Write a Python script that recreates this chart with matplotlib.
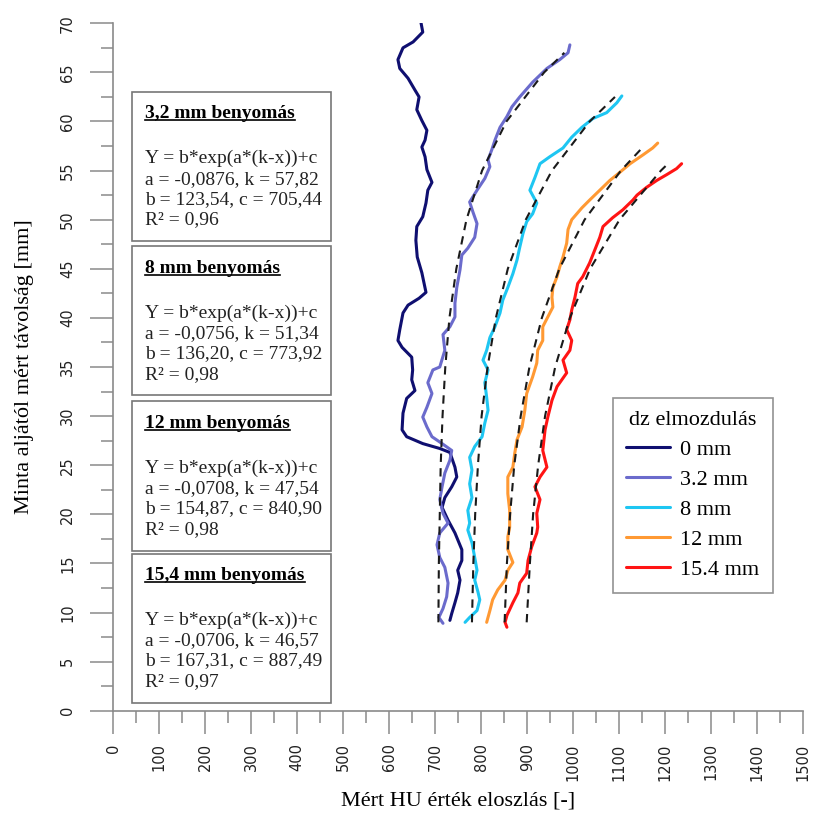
import matplotlib
matplotlib.use('Agg')
import matplotlib.pyplot as plt
from matplotlib.patches import Rectangle
from matplotlib.lines import Line2D

plt.rcParams['font.family'] = ['Liberation Serif', 'DejaVu Serif']

# measured HU profiles (height [mm], HU)
h_0 = [9.2, 9.9, 11.0, 12.0, 13.3, 14.3, 15.3, 16.4, 18.1, 19.4, 20.7, 21.7, 22.8, 23.8, 24.8,
       26.3, 26.7, 27.2, 27.9, 28.6, 30.3, 31.8, 32.6, 33.7, 34.7, 36.0, 37.0, 37.7, 38.8, 40.5,
       41.3, 42.0, 42.6, 44.6, 46.2, 47.9, 49.3, 50.3, 51.7, 53.0, 53.8, 55.1, 56.4, 57.4, 58.1,
       59.1, 60.1, 61.2, 62.5, 63.2, 64.4, 65.4, 66.3, 67.5, 68.1, 69.1, 70.6, 71.4]
hu_0 = [732, 736, 743, 749, 754, 749, 758, 758, 743, 728, 715, 721, 736, 747, 743,
        732, 710, 673, 638, 628, 630, 638, 656, 649, 651, 649, 628, 619, 623, 630,
        641, 665, 680, 671, 661, 658, 660, 673, 680, 684, 693, 682, 678, 671, 678,
        682, 671, 660, 665, 656, 641, 623, 619, 630, 652, 673, 667, 667]

h_32 = [8.9, 9.5, 10.4, 11.6, 13.0, 14.6, 15.6, 16.9, 18.1, 19.1, 20.1, 21.5, 22.8, 24.2, 25.5,
        26.5, 27.2, 27.9, 28.9, 29.9, 30.9, 32.3, 33.4, 34.7, 35.0, 36.7, 38.3, 39.1, 40.1, 41.5,
        43.1, 44.9, 46.4, 47.1, 48.2, 49.6, 50.8, 51.8, 53.0, 54.2, 55.4, 56.1, 57.1, 58.1, 59.4,
        60.5, 61.5, 62.5, 64.0, 65.4, 66.3, 67.0, 67.8]
hu_32 = [717, 708, 717, 725, 728, 721, 710, 704, 710, 728, 717, 710, 715, 721, 732,
         736, 715, 693, 682, 673, 682, 693, 684, 695, 710, 721, 717, 732, 743, 743,
         747, 754, 758, 771, 786, 791, 782, 775, 791, 808, 819, 815, 823, 830, 841,
         856, 867, 884, 912, 943, 971, 989, 993]

h_8 = [9.0, 9.5, 10.2, 11.3, 12.1, 13.3, 14.3, 15.6, 17.1, 18.4, 19.1, 20.4, 21.7, 23.1, 24.5,
       25.8, 26.9, 27.9, 29.3, 30.6, 31.9, 33.4, 34.7, 35.7, 36.7, 38.0, 39.1, 40.5, 41.8, 43.1,
       44.5, 45.9, 47.2, 48.6, 49.8, 50.6, 51.7, 53.0, 54.3, 55.7, 56.4, 57.3, 58.4, 59.4, 60.3,
       60.9, 61.9, 62.6]
hu_8 = [765, 775, 791, 797, 793, 786, 791, 786, 780, 771, 775, 771, 780, 775, 780,
        775, 786, 802, 808, 815, 812, 808, 815, 804, 812, 819, 830, 841, 847, 858,
        869, 878, 884, 891, 899, 912, 921, 906, 917, 928, 949, 978, 997, 1019, 1043,
        1073, 1095, 1106]

h_12 = [9.0, 10.2, 11.3, 12.3, 13.3, 14.3, 15.1, 16.4, 17.7, 18.7, 20.4, 22.1, 23.8, 24.8, 26.2,
        27.6, 28.9, 30.6, 32.3, 34.0, 35.4, 36.7, 37.7, 39.1, 40.1, 41.1, 42.1, 43.1, 44.2, 45.2,
        46.2, 47.6, 49.0, 50.0, 51.2, 52.0, 53.0, 54.0, 54.8, 55.7, 56.6, 57.3, 57.8]
hu_12 = [812, 819, 825, 836, 852, 858, 869, 858, 858, 862, 862, 858, 858, 869, 873,
         878, 889, 895, 899, 912, 921, 923, 934, 934, 945, 956, 954, 956, 965, 971,
         978, 986, 989, 997, 1019, 1036, 1058, 1080, 1101, 1124, 1152, 1173, 1184]

h_154 = [8.5, 9.0, 9.7, 11.0, 12.0, 13.0, 14.0, 15.3, 16.7, 18.1, 18.7, 20.1, 21.5, 22.8, 23.8,
         24.8, 26.5, 28.6, 29.9, 31.6, 33.0, 34.4, 35.7, 36.7, 37.7, 38.8, 39.8, 40.8, 42.1, 43.5,
         44.2, 45.6, 46.9, 48.2, 49.3, 50.2, 51.0, 52.0, 52.5, 53.3, 54.0, 54.6, 55.2, 55.7]
hu_154 = [856, 852, 856, 869, 880, 884, 899, 902, 910, 921, 923, 921, 928, 917, 928,
          943, 934, 939, 945, 954, 965, 986, 978, 993, 997, 986, 993, 997, 1004, 1010,
          1021, 1036, 1047, 1058, 1065, 1086, 1108, 1130, 1139, 1160, 1182, 1204, 1225, 1236]

# fitted curves (dashed)
fit_h_32 = [9, 15, 20, 25, 30, 35, 40, 45, 50, 55, 60, 65, 67]
fit_hu_32 = [707, 708, 710, 712, 716, 722, 731, 746, 768, 802, 855, 937, 981]
fit_h_8 = [9, 15, 20, 25, 30, 35, 40, 45, 50, 55, 60, 62.5]
fit_hu_8 = [780, 783, 787, 793, 801, 814, 832, 858, 897, 954, 1036, 1091]
fit_h_12 = [9, 15, 20, 25, 30, 35, 40, 45, 50, 55, 57.5]
fit_hu_12 = [851, 856, 863, 872, 886, 905, 932, 970, 1025, 1104, 1154]
fit_h_154 = [9, 15, 20, 25, 30, 35, 40, 45, 50, 55, 55.5]
fit_hu_154 = [899, 906, 913, 924, 939, 961, 993, 1037, 1101, 1191, 1202]

series_labels = ['0 mm', '3.2 mm', '8 mm', '12 mm', '15.4 mm']
series_colors = ['#0f0f70', '#6b6bcc', '#1ec6f2', '#ff9933', '#ff1414']

box_titles = ['3,2 mm benyomás', '8 mm benyomás', '12 mm benyomás', '15,4 mm benyomás']
fit_a = ['-0,0876', '-0,0756', '-0,0708', '-0,0706']
fit_k = ['57,82', '51,34', '47,54', '46,57']
fit_b = ['123,54', '136,20', '154,87', '167,31']
fit_c = ['705,44', '773,92', '840,90', '887,49']
fit_r2 = ['0,96', '0,98', '0,98', '0,97']

fig = plt.figure(figsize=(8.13, 8.14), dpi=100)
ax = fig.add_axes([0.1394, 0.1269, 0.8483, 0.8445])

meas = [(hu_0, h_0), (hu_32, h_32), (hu_8, h_8), (hu_12, h_12), (hu_154, h_154)]
for (x, y), col, lab in zip(meas, series_colors, series_labels):
    ax.plot(x, y, color=col, lw=2.2, label=lab, solid_capstyle='round',
            solid_joinstyle='round')

fits = [(fit_hu_32, fit_h_32), (fit_hu_8, fit_h_8), (fit_hu_12, fit_h_12), (fit_hu_154, fit_h_154)]
for x, y in fits:
    ax.plot(x, y, color='#1a1a1a', lw=1.5, ls=(0, (4, 3)))

ax.set_xlim(0, 1500)
ax.set_ylim(0, 70)
ax.set_xticks(range(0, 1501, 100))
ax.set_xticks(range(50, 1500, 100), minor=True)
ax.set_yticks(range(0, 71, 5))
ax.set_yticks([v + 2.5 for v in range(0, 70, 5)], minor=True)
for s in ['top', 'right']:
    ax.spines[s].set_visible(False)
for s in ['left', 'bottom']:
    ax.spines[s].set_color('#8a8a8a')
    ax.spines[s].set_linewidth(1.2)
ax.tick_params(which='major', length=16.5, width=1.1, color='#8a8a8a')
ax.tick_params(which='minor', length=8.4, width=1.1, color='#8a8a8a')
ax.tick_params(axis='x', which='major', pad=7)
ax.tick_params(axis='y', which='major', pad=11)
for lbl in ax.get_xticklabels() + ax.get_yticklabels():
    lbl.set_fontfamily('DejaVu Sans')
    lbl.set_fontsize(10.5)
    lbl.set_color('#222222')
plt.setp(ax.get_xticklabels(), rotation=90)
plt.setp(ax.get_yticklabels(), rotation=90, va='center')
ax.set_xlabel('Mért HU érték eloszlás [-]', fontsize=16, labelpad=8)
ax.set_ylabel('Minta aljától mért távolság [mm]', fontsize=16, labelpad=19)

# fit parameter boxes
box_x0, box_x1 = 41, 473
box_tops = [63.0, 47.3, 31.5, 16.0]
box_h = 15.2
title_texts = []
for i, top in enumerate(box_tops):
    ax.add_patch(Rectangle((box_x0, top - box_h), box_x1 - box_x0, box_h, fill=True,
                           facecolor='white', edgecolor='#777777', lw=1.2, zorder=3))
    t = ax.annotate(box_titles[i], xy=(box_x0, top), xytext=(9.4, -15.8),
                    textcoords='offset points', fontsize=14, fontweight='bold',
                    va='center', ha='left', zorder=4)
    title_texts.append(t)
    lines = ['Y = b*exp(a*(k-x))+c',
             'a = %s, k = %s' % (fit_a[i], fit_k[i]),
             'b = %s, c = %s' % (fit_b[i], fit_c[i]),
             'R² = %s' % fit_r2[i]]
    for j, ln in enumerate(lines):
        ax.annotate(ln, xy=(box_x0, top), xytext=(9.4, -48 - 14.7 * j),
                    textcoords='offset points', fontsize=14, color='#222222',
                    va='center', ha='left', zorder=4)

leg = ax.legend(title='dz elmozdulás', loc='upper left', bbox_to_anchor=(0.724, 0.455),
                fontsize=16, title_fontsize=16, frameon=True, fancybox=False,
                edgecolor='#777777', handlelength=2.0, handletextpad=0.45,
                labelspacing=0.42, borderpad=0.6, borderaxespad=0)
leg.get_frame().set_linewidth(1.2)

# underline box titles
fig.canvas.draw()
r = fig.canvas.get_renderer()
inv = fig.transFigure.inverted()
for t in title_texts:
    bb = t.get_window_extent(renderer=r)
    p0 = inv.transform((bb.x0, bb.y0 + 2))
    p1 = inv.transform((bb.x1, bb.y0 + 2))
    fig.add_artist(Line2D([p0[0], p1[0]], [p0[1], p1[1]], color='black', lw=1.2,
                          transform=fig.transFigure, zorder=5))

fig.savefig('out.png', dpi=100)
